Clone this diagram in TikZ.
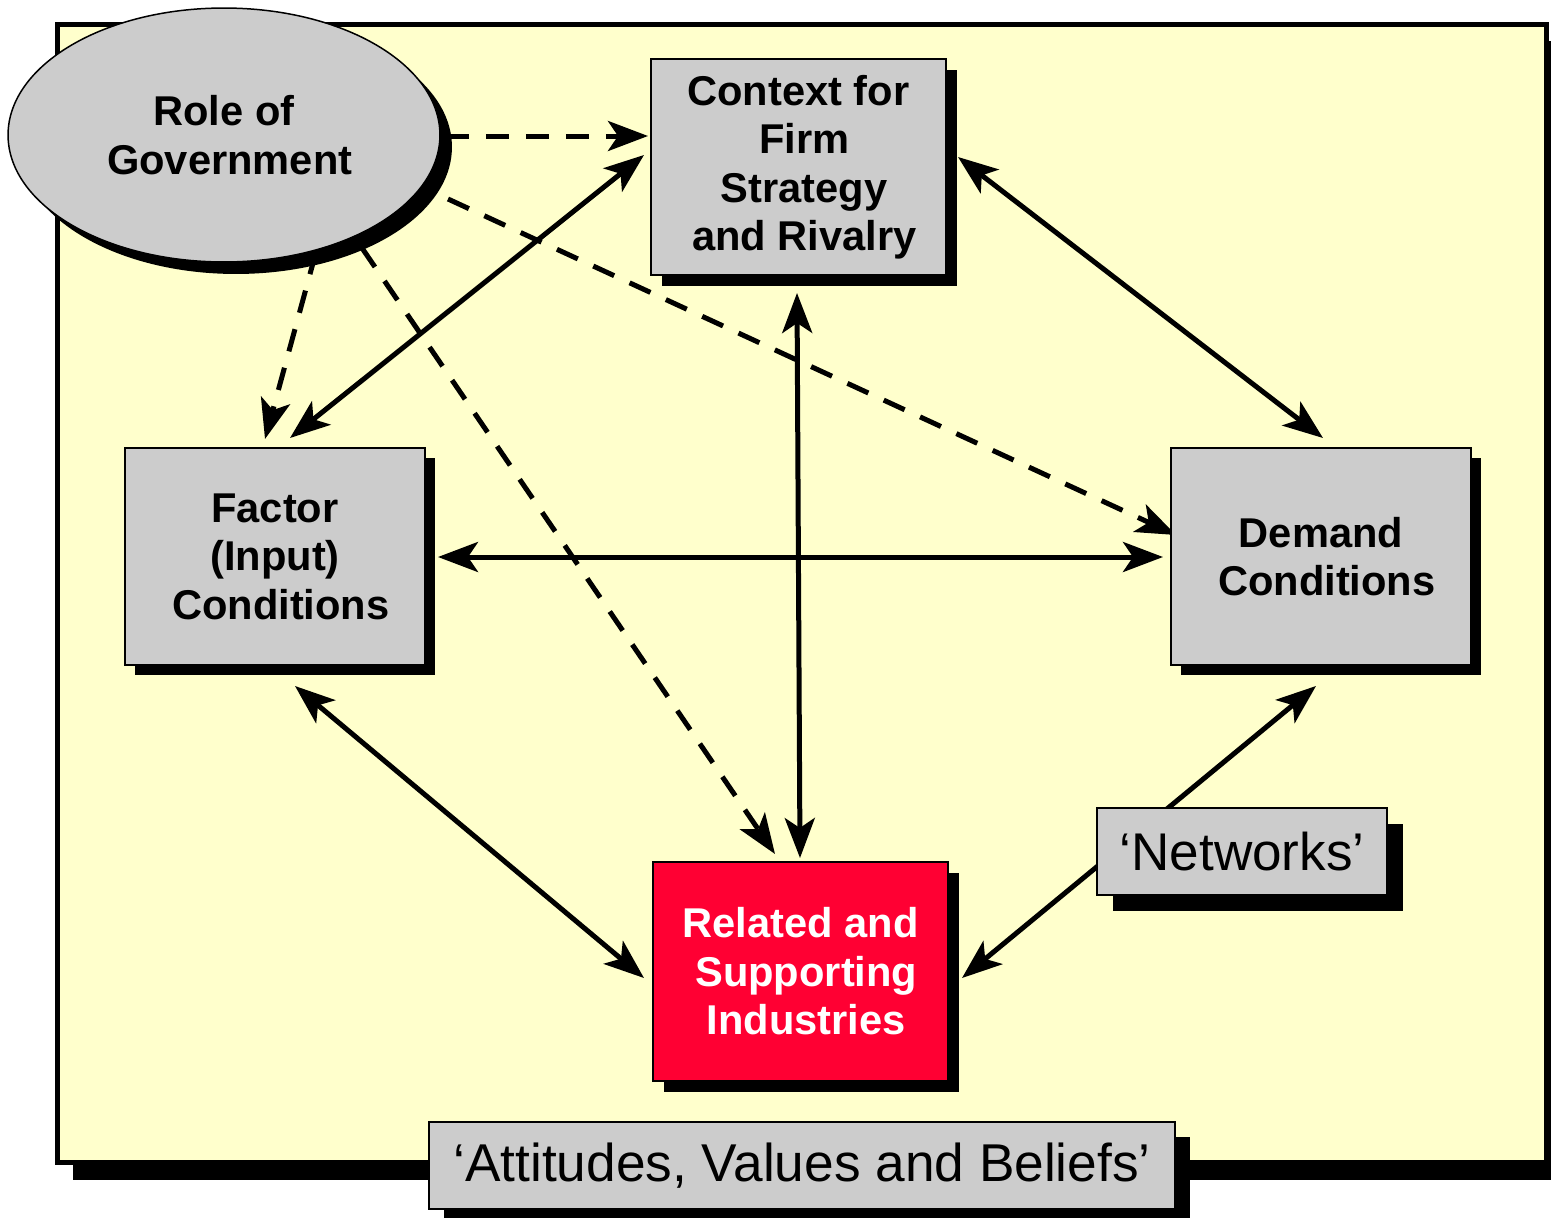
\documentclass[tikz,border=0pt]{standalone}
\usepackage{fontspec}
\setmainfont{Liberation Sans}
\usetikzlibrary{shadows,arrows.meta,shapes.geometric}
\definecolor{bgyellow}{HTML}{FFFFCC}
\definecolor{boxgrey}{HTML}{CCCCCC}
\definecolor{boxred}{HTML}{FF0033}
\newcommand{\lsp}{\hspace*{0.278em}}
\pgfdeclarelayer{bg}
\pgfdeclarelayer{arr}
\pgfsetlayers{bg,arr,main}
\tikzset{
  sh/.style={drop shadow={shadow xshift=#1,shadow yshift=-#1,opacity=1,fill=black}},
  gbox/.style={draw=black,line width=0.04cm,fill=boxgrey,align=center,inner sep=0pt,
     font=\fontsize{23.7}{27.6}\selectfont\bfseries,minimum width=5.9cm,minimum height=4.34cm},
  lbox/.style={draw=black,line width=0.04cm,fill=boxgrey,align=center,inner sep=0pt,
     font=\fontsize{30.2}{34}\selectfont,minimum height=1.74cm},
  dbl/.style={<->,line width=0.1cm},
  dsh/.style={->,line width=0.1cm,dash pattern=on 0.46cm off 0.34cm},
}
\begin{document}
\begin{tikzpicture}[x=0.02cm,y=-0.02cm,>={Stealth[length=0.8cm,width=0.6cm,inset=0.2cm]}]
\useasboundingbox (0,0) rectangle (1551,1217);
\begin{pgfonlayer}{bg}
  \fill[black] (73,41) rectangle (1565,1180);
  \draw[fill=bgyellow,line width=0.1cm] (57,24.5) rectangle (1546,1162);
\end{pgfonlayer}

% nodes
\node[ellipse,draw=black,line width=0.03cm,fill=boxgrey,sh=0.24cm,minimum width=8.64cm,minimum height=5.08cm,
  align=center,inner sep=0pt,font=\fontsize{23.7}{27.6}\selectfont\bfseries] (gov) at (224,135) {Role of\\\lsp Government};
\node[gbox,sh=0.22cm] (ctx) at (798.5,167) {Context for\\\lsp Firm\\\lsp Strategy\\\lsp and Rivalry};
\node[gbox,sh=0.2cm,minimum width=6cm] (fac) at (275,556.5) {Factor\\(Input)\\\lsp Conditions};
\node[gbox,sh=0.2cm,minimum width=6cm] (dem) at (1321,556.5) {Demand\\\lsp Conditions};
\node[gbox,sh=0.22cm,fill=boxred,text=white,minimum height=4.38cm] (rel) at (800.5,971.5) {Related and\\\lsp Supporting\\\lsp Industries};
\node[lbox,sh=0.32cm,minimum width=5.8cm] (net) at (1242,851.5) {‘Networks’};
\node[lbox,sh=0.3cm,minimum width=14.92cm,font=\fontsize{30.3}{34}\selectfont] (att) at (802,1165.5) {‘Attitudes, Values and Beliefs’};

% connector end points
\coordinate (g1s) at (446,136);  \coordinate (g1e) at (648,136);
\coordinate (g2s) at (448,199);  \coordinate (g2e) at (1176,535);
\coordinate (g3s) at (316,252);  \coordinate (g3e) at (265,439);
\coordinate (g4s) at (362,248);  \coordinate (g4e) at (775,854);
\coordinate (fc1) at (290,438);  \coordinate (fc2) at (644,155);
\coordinate (cd1) at (958,157);  \coordinate (cd2) at (1323,438);
\coordinate (cr1) at (797,293);  \coordinate (cr2) at (800,858);
\coordinate (fd1) at (438,557);  \coordinate (fd2) at (1163,557);
\coordinate (fr1) at (295,686);  \coordinate (fr2) at (644,978);
\coordinate (rd1) at (962,978);  \coordinate (rd2) at (1316,686);

\begin{pgfonlayer}{arr}
  \draw[dsh] (g1s) -- (g1e);
  \draw[dsh] (g2s) -- (g2e);
  \draw[dsh] (g3s) -- (g3e);
  \draw[dsh] (g4s) -- (g4e);
  \draw[dbl] (fc1) -- (fc2);
  \draw[dbl] (cd1) -- (cd2);
  \draw[dbl] (cr1) -- (cr2);
  \draw[dbl] (fd1) -- (fd2);
  \draw[dbl] (fr1) -- (fr2);
  \draw[dbl] (rd1) -- (rd2);
\end{pgfonlayer}
\end{tikzpicture}
\end{document}
